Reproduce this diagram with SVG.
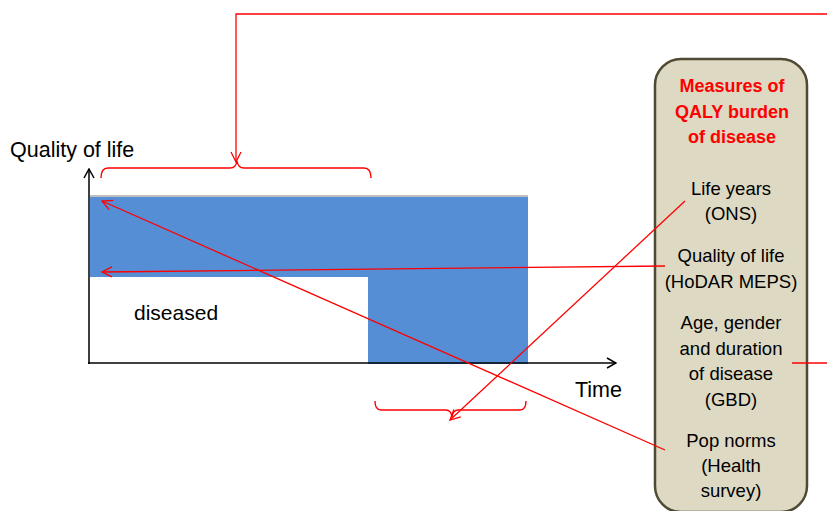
<svg xmlns="http://www.w3.org/2000/svg" width="827" height="511" viewBox="0 0 827 511">
  <style>
    .lbl { font-family: "Liberation Sans", Arial, sans-serif; fill: #000; }
    .axis { stroke: #000; stroke-width: 1.5; fill: none; }
    .red { stroke: #ff0000; stroke-width: 1.3; fill: none; }
    .brace { stroke: #ff0000; stroke-width: 1.4; fill: none; }
    .boxtext { font-family: "Liberation Sans", Arial, sans-serif; font-size: 18.5px; fill: #000; text-anchor: middle; }
    .boxhead { font-family: "Liberation Sans", Arial, sans-serif; font-size: 18px; font-weight: bold; fill: #ff0000; text-anchor: middle; }
  </style>
  <defs>
    <marker id="openArrow" viewBox="0 0 12 12" refX="11" refY="6" markerWidth="12" markerHeight="12" markerUnits="userSpaceOnUse" orient="auto">
      <path d="M1,1 L11,6 L1,11" fill="none" stroke="#ff0000" stroke-width="1.3"/>
    </marker>
    <marker id="axisArrow" viewBox="0 0 12 12" refX="11" refY="6" markerWidth="12" markerHeight="12" markerUnits="userSpaceOnUse" orient="auto">
      <path d="M2,1 L11,6 L2,11" fill="none" stroke="#000" stroke-width="1.5"/>
    </marker>
  </defs>

  <rect width="827" height="511" fill="#ffffff"/>

  <!-- quality-of-life area -->
  <g id="qol-area">
    <path d="M90,197 H528 V364 H368 V277 H90 Z" fill="#558ed5"/>
    <line x1="90" y1="196" x2="528" y2="196" stroke="#bfbfbf" stroke-width="2"/>
  </g>

  <!-- axes -->
  <g id="axes">
    <line class="axis" x1="89" y1="364" x2="89" y2="169" marker-end="url(#axisArrow)"/>
    <line class="axis" x1="88" y1="363" x2="616" y2="363" marker-end="url(#axisArrow)"/>
    <text class="lbl" x="10" y="157" font-size="21.5">Quality of life</text>
    <text class="lbl" x="575" y="397" font-size="21.5">Time</text>
    <text class="lbl" x="134" y="320" font-size="21">diseased</text>
  </g>

  <!-- braces -->
  <g id="brace-top">
    <path class="brace" d="M101,178 Q101,168 108,168 L230,168 Q236,168 237,161 Q238,168 244,168 L364,168 Q371,168 371,178"/>
  </g>
  <g id="brace-bottom">
    <path class="brace" d="M375,401 Q375,410 381,410 L446,410 Q451,410 452,417 Q453,410 458,410 L520,410 Q526,410 526,401"/>
  </g>

  <!-- measures box -->
  <g id="measures-box">
    <rect x="655" y="59" width="152" height="453" rx="26" ry="26" fill="#ddd9c3" stroke="#4f4a33" stroke-width="2.5"/>
    <text class="boxhead" x="732" y="92">Measures of</text>
    <text class="boxhead" x="732" y="118">QALY burden</text>
    <text class="boxhead" x="732" y="143">of disease</text>
    <text class="boxtext" x="731" y="195">Life years</text>
    <text class="boxtext" x="731" y="220">(ONS)</text>
    <text class="boxtext" x="731" y="262">Quality of life</text>
    <text class="boxtext" x="731" y="288">(HoDAR MEPS)</text>
    <text class="boxtext" x="731" y="329">Age, gender</text>
    <text class="boxtext" x="731" y="355">and duration</text>
    <text class="boxtext" x="731" y="380">of disease</text>
    <text class="boxtext" x="731" y="406">(GBD)</text>
    <text class="boxtext" x="731" y="447">Pop norms</text>
    <text class="boxtext" x="731" y="472">(Health</text>
    <text class="boxtext" x="731" y="497">survey)</text>
  </g>

  <!-- connectors -->
  <g id="connectors">
    <polyline class="red" points="830,14 236,14 236,162" marker-end="url(#openArrow)"/>
    <line class="red" x1="792" y1="363" x2="830" y2="363"/>
    <line class="red" x1="665" y1="266" x2="102" y2="272" marker-end="url(#openArrow)"/>
    <line class="red" x1="665" y1="450" x2="102" y2="201" marker-end="url(#openArrow)"/>
    <line class="red" x1="685" y1="201" x2="450" y2="420" marker-end="url(#openArrow)"/>
  </g>
</svg>
